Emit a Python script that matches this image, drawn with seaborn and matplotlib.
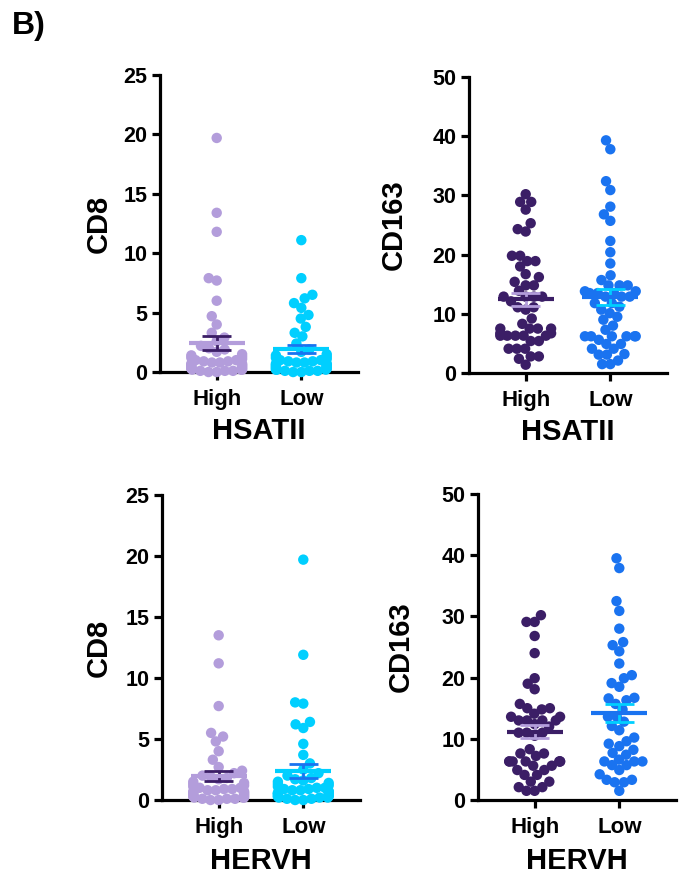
import warnings
import numpy as np
import pandas as pd
import matplotlib
matplotlib.use("Agg")
import matplotlib.pyplot as plt
from matplotlib.collections import PathCollection
import seaborn as sns

warnings.filterwarnings("ignore")

groups = ["High", "Low"]

# CD8 split by HSATII
cd8_hsatii_high = [19.7, 13.4, 11.8, 7.9, 7.7, 6.0, 4.7, 4.0, 3.3, 2.9, 2.6, 2.2, 2.0, 1.9, 1.7,
                   1.5, 1.4, 1.3, 1.2, 1.1, 1.0, 1.0, 0.9, 0.9, 0.8, 0.8, 0.7, 0.7, 0.6, 0.6,
                   0.5, 0.5, 0.4, 0.4, 0.3, 0.3, 0.3, 0.2, 0.2, 0.2, 0.1, 0.1, 0.1, 0.0, 0.0]
cd8_hsatii_low = [11.1, 7.9, 6.5, 6.2, 5.8, 5.4, 4.8, 4.5, 3.8, 3.3, 3.0, 2.4, 1.9, 1.7, 1.5,
                  1.4, 1.3, 1.2, 1.1, 1.0, 1.0, 0.9, 0.9, 0.8, 0.8, 0.7, 0.7, 0.6, 0.6, 0.5,
                  0.5, 0.5, 0.4, 0.4, 0.3, 0.3, 0.3, 0.2, 0.2, 0.2, 0.1, 0.1, 0.1, 0.0, 0.0]

# CD163 split by HSATII
cd163_hsatii_high = [30.2, 28.9, 28.9, 27.6, 25.3, 24.3, 23.9, 19.8, 19.8, 18.9, 18.9, 18.0,
                     16.7, 16.2, 15.4, 14.8, 14.8, 13.9, 12.9, 12.9, 12.9, 12.9, 12.1, 11.1,
                     11.1, 10.7, 9.2, 8.3, 7.5, 7.5, 7.5, 7.5, 6.7, 6.7, 6.3, 6.3, 6.3, 6.3,
                     6.3, 5.4, 5.4, 4.1, 4.1, 4.1, 2.8, 2.8, 2.4, 1.4]
cd163_hsatii_low = [39.3, 37.8, 32.4, 30.9, 28.1, 26.8, 25.7, 22.3, 20.4, 18.5, 16.5, 15.7,
                    14.8, 14.8, 14.8, 13.8, 13.8, 13.5, 13.5, 13.5, 12.9, 12.9, 12.9, 11.8,
                    11.8, 11.2, 10.7, 10.1, 9.5, 9.0, 8.0, 7.3, 6.2, 6.2, 6.2, 6.2, 6.2, 6.2,
                    5.6, 4.9, 4.9, 4.1, 4.1, 3.2, 3.1, 3.1, 2.1, 1.5, 1.5]

# CD8 split by HERVH
cd8_hervh_high = [13.5, 11.2, 7.7, 5.5, 5.2, 4.8, 4.0, 3.3, 2.7, 2.4, 2.2, 2.0, 1.9, 1.8, 1.7,
                  1.5, 1.4, 1.3, 1.2, 1.1, 1.0, 1.0, 0.9, 0.9, 0.8, 0.8, 0.7, 0.7, 0.6, 0.6,
                  0.5, 0.5, 0.4, 0.4, 0.3, 0.3, 0.3, 0.2, 0.2, 0.2, 0.1, 0.1, 0.1, 0.0, 0.0]
cd8_hervh_low = [19.7, 11.9, 8.0, 7.9, 6.4, 6.2, 5.9, 4.6, 3.7, 3.0, 2.5, 2.2, 2.0, 1.8, 1.7,
                 1.6, 1.5, 1.4, 1.3, 1.2, 1.1, 1.0, 1.0, 0.9, 0.9, 0.8, 0.8, 0.7, 0.7, 0.6,
                 0.6, 0.5, 0.5, 0.4, 0.4, 0.3, 0.3, 0.3, 0.2, 0.2, 0.2, 0.1, 0.1, 0.0, 0.0]

# CD163 split by HERVH
cd163_hervh_high = [30.2, 29.1, 29.1, 26.8, 24.0, 19.9, 19.0, 18.1, 15.7, 15.0, 15.0, 14.8,
                    14.1, 13.6, 13.6, 13.0, 13.0, 13.0, 13.0, 12.4, 12.0, 11.0, 11.0, 11.0,
                    10.5, 8.3, 7.6, 7.6, 7.2, 6.3, 6.3, 6.3, 6.3, 6.3, 6.3, 6.3, 5.6, 5.6,
                    4.9, 4.9, 4.1, 4.1, 3.0, 3.0, 2.1, 2.1, 1.5, 1.5]
cd163_hervh_low = [39.5, 37.9, 32.5, 30.9, 28.0, 25.8, 25.3, 24.3, 22.3, 20.4, 19.9, 19.1,
                   18.5, 16.7, 16.6, 16.3, 15.7, 14.8, 13.6, 13.6, 12.8, 12.1, 11.4, 10.2,
                   9.6, 9.2, 8.8, 8.2, 7.7, 7.4, 6.6, 6.3, 6.3, 6.3, 5.7, 5.7, 4.9, 4.2,
                   3.3, 3.3, 2.9, 2.9, 1.5]

lavender = "#b39ddb"
cyan = "#00cfff"
dark_purple = "#3b1e66"
blue = "#1a73f0"

sns.set_style("ticks")
plt.rcParams["font.family"] = ["Liberation Sans", "DejaVu Sans"]
plt.rcParams["font.weight"] = "bold"
plt.rcParams["text.color"] = "black"
plt.rcParams["axes.labelcolor"] = "black"
plt.rcParams["xtick.color"] = "black"
plt.rcParams["ytick.color"] = "black"


def panel(ax, high, low, ylabel, xlabel, ymax, step, dot_colors, err_colors, ylab_x):
    df = pd.DataFrame({
        "group": ["High"] * len(high) + ["Low"] * len(low),
        "value": high + low,
    })
    sns.swarmplot(data=df, x="group", y="value", hue="group", order=groups,
                  hue_order=groups, palette=dot_colors, size=7.5,
                  legend=False, ax=ax, zorder=3, clip_on=False)

    # mean +/- SEM
    for i, vals in enumerate([high, low]):
        v = np.asarray(vals)
        m = v.mean()
        se = v.std(ddof=1) / np.sqrt(len(v))
        ax.vlines(i, m - se, m + se, color=err_colors[i], lw=2, zorder=4)
        ax.hlines([m - se, m + se], i - 0.17, i + 0.17, color=err_colors[i], lw=2, zorder=4)
        ax.hlines(m, i - 0.33, i + 0.33, color=dot_colors[i], lw=3, zorder=5)

    ax.set_xlim(-0.67, 1.67)
    ax.set_ylim(0, ymax)
    ax.set_yticks(np.arange(0, ymax + 1, step))
    sns.despine(ax=ax)
    for s in ["left", "bottom"]:
        ax.spines[s].set_linewidth(2.3)
        ax.spines[s].set_color("black")
    ax.tick_params(axis="both", width=2.3, length=6, color="black", direction="out")
    ax.tick_params(axis="y", labelsize=15.5, pad=3)
    ax.tick_params(axis="x", labelsize=16, pad=6)
    for lab in ax.get_xticklabels() + ax.get_yticklabels():
        lab.set_fontweight("bold")

    ax.set_ylabel(ylabel, fontsize=21, fontweight="bold", va="center")
    ax.yaxis.set_label_coords(ylab_x, 0.5)
    ax.set_xlabel(xlabel, fontsize=21, fontweight="bold", va="center")
    ax.xaxis.set_label_coords(0.5, -0.2)


fig = plt.figure(figsize=(6.8, 8.77), dpi=100)

ax1 = fig.add_axes([0.2353, 0.5758, 0.2912, 0.3387])
ax2 = fig.add_axes([0.6897, 0.5747, 0.2912, 0.3375])
ax3 = fig.add_axes([0.2382, 0.0878, 0.2912, 0.3478])
ax4 = fig.add_axes([0.7029, 0.0878, 0.2912, 0.3489])

panel(ax1, cd8_hsatii_high, cd8_hsatii_low, "CD8", "HSATII", 25, 5,
      [lavender, cyan], [dark_purple, blue], -0.31)
panel(ax2, cd163_hsatii_high, cd163_hsatii_low, "CD163", "HSATII", 50, 10,
      [dark_purple, blue], [lavender, cyan], -0.38)
panel(ax3, cd8_hervh_high, cd8_hervh_low, "CD8", "HERVH", 25, 5,
      [lavender, cyan], [dark_purple, blue], -0.32)
panel(ax4, cd163_hervh_high, cd163_hervh_low, "CD163", "HERVH", 50, 10,
      [dark_purple, blue], [lavender, cyan], -0.39)

fig.text(0.018, 0.988, "B)", fontsize=23, fontweight="bold", va="top", ha="left")

# seaborn lays out the swarm at draw time; freeze it, then pack it a bit
# tighter the way GraphPad does (dots are allowed to touch/overlap)
fig.canvas.draw()
for ax in [ax1, ax2, ax3, ax4]:
    for coll in ax.collections:
        if not isinstance(coll, PathCollection):
            continue
        coll.__dict__.pop("draw", None)
        off = np.array(coll.get_offsets())
        if len(off):
            centre = np.round(off[:, 0])
            off[:, 0] = centre + (off[:, 0] - centre) * 0.75
            coll.set_offsets(off)

fig.savefig("out.png", dpi=100, facecolor="white")
